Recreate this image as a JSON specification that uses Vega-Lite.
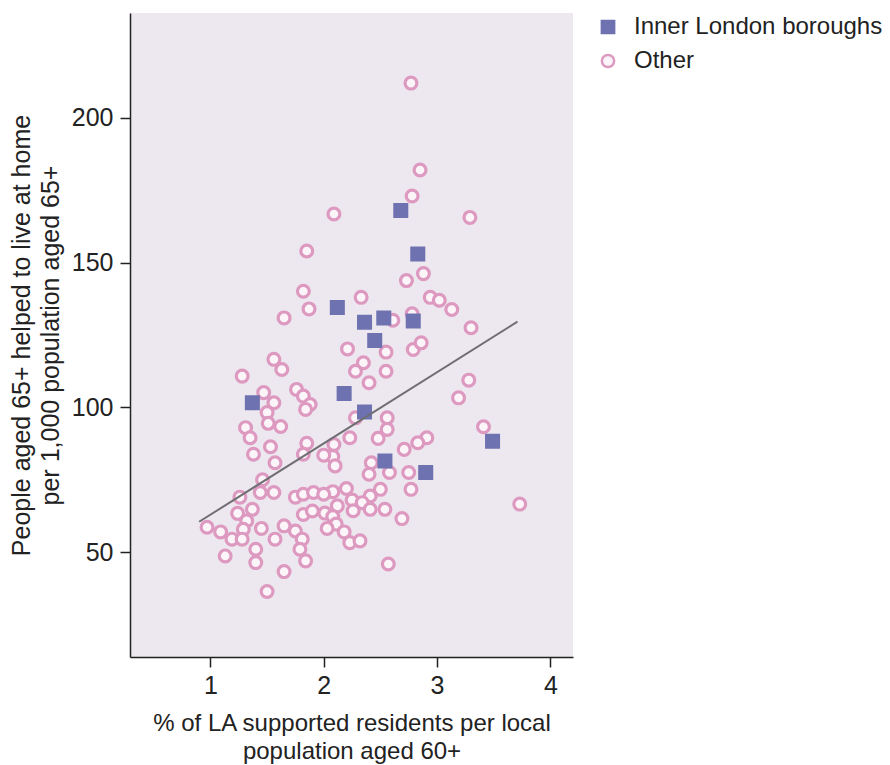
{
  "$schema": "https://vega.github.io/schema/vega-lite/v6.json",
  "width": 443,
  "height": 644,
  "autosize": {"type": "none"},
  "padding": {"left": 130, "top": 13, "right": 317, "bottom": 108},
  "background": "white",
  "config": {
    "font": "Liberation Sans",
    "view": {"fill": "#ede8ef", "stroke": null},
    "axis": {"grid": false, "domainColor": "#222222", "tickColor": "#222222", "labelColor": "#222222", "titleColor": "#222222", "labelFont": "Liberation Sans", "titleFont": "Liberation Sans", "titleFontWeight": "normal", "domainWidth": 1.5, "tickWidth": 1.5},
    "legend": {"title": null, "orient": "none", "legendX": 466, "legendY": 2, "labelFontSize": 24, "labelColor": "#222222", "labelLimit": 400, "symbolSize": 150, "symbolStrokeWidth": 2.5, "rowPadding": 10, "labelOffset": 14, "padding": 0}
  },
  "layer": [
    {
      "data": {
        "values": [
          {"x": 2.77, "y": 212, "g": "Other"},
          {"x": 2.85, "y": 182, "g": "Other"},
          {"x": 2.78, "y": 173, "g": "Other"},
          {"x": 2.09, "y": 166.8, "g": "Other"},
          {"x": 3.29, "y": 165.6, "g": "Other"},
          {"x": 1.85, "y": 154, "g": "Other"},
          {"x": 2.88, "y": 146.2, "g": "Other"},
          {"x": 2.73, "y": 143.8, "g": "Other"},
          {"x": 1.82, "y": 140.1, "g": "Other"},
          {"x": 2.33, "y": 138, "g": "Other"},
          {"x": 2.94, "y": 138, "g": "Other"},
          {"x": 3.02, "y": 137, "g": "Other"},
          {"x": 1.87, "y": 134, "g": "Other"},
          {"x": 3.13, "y": 133.8, "g": "Other"},
          {"x": 2.78, "y": 132.3, "g": "Other"},
          {"x": 1.65, "y": 130.9, "g": "Other"},
          {"x": 2.61, "y": 130.1, "g": "Other"},
          {"x": 3.30, "y": 127.5, "g": "Other"},
          {"x": 2.21, "y": 120.2, "g": "Other"},
          {"x": 2.55, "y": 119.1, "g": "Other"},
          {"x": 2.79, "y": 120, "g": "Other"},
          {"x": 2.86, "y": 122.3, "g": "Other"},
          {"x": 1.56, "y": 116.6, "g": "Other"},
          {"x": 2.35, "y": 115.4, "g": "Other"},
          {"x": 1.63, "y": 113.1, "g": "Other"},
          {"x": 2.28, "y": 112.5, "g": "Other"},
          {"x": 2.55, "y": 112.5, "g": "Other"},
          {"x": 1.28, "y": 110.8, "g": "Other"},
          {"x": 3.28, "y": 109.4, "g": "Other"},
          {"x": 2.40, "y": 108.5, "g": "Other"},
          {"x": 1.76, "y": 106.2, "g": "Other"},
          {"x": 1.47, "y": 105.1, "g": "Other"},
          {"x": 1.82, "y": 103.9, "g": "Other"},
          {"x": 3.19, "y": 103.3, "g": "Other"},
          {"x": 1.56, "y": 101.6, "g": "Other"},
          {"x": 1.88, "y": 101, "g": "Other"},
          {"x": 1.84, "y": 99.3, "g": "Other"},
          {"x": 1.50, "y": 98.2, "g": "Other"},
          {"x": 2.28, "y": 96.4, "g": "Other"},
          {"x": 2.56, "y": 96.4, "g": "Other"},
          {"x": 1.51, "y": 94.5, "g": "Other"},
          {"x": 1.62, "y": 93.4, "g": "Other"},
          {"x": 1.31, "y": 93, "g": "Other"},
          {"x": 3.41, "y": 93.3, "g": "Other"},
          {"x": 2.56, "y": 92.4, "g": "Other"},
          {"x": 1.35, "y": 89.5, "g": "Other"},
          {"x": 2.23, "y": 89.5, "g": "Other"},
          {"x": 2.48, "y": 89.3, "g": "Other"},
          {"x": 2.91, "y": 89.5, "g": "Other"},
          {"x": 2.83, "y": 87.8, "g": "Other"},
          {"x": 1.85, "y": 87.6, "g": "Other"},
          {"x": 2.09, "y": 87.2, "g": "Other"},
          {"x": 1.53, "y": 86.4, "g": "Other"},
          {"x": 2.71, "y": 85.5, "g": "Other"},
          {"x": 1.38, "y": 83.8, "g": "Other"},
          {"x": 1.82, "y": 83.8, "g": "Other"},
          {"x": 2.08, "y": 83, "g": "Other"},
          {"x": 2.00, "y": 83.5, "g": "Other"},
          {"x": 2.10, "y": 79.8, "g": "Other"},
          {"x": 2.42, "y": 80.9, "g": "Other"},
          {"x": 1.57, "y": 80.9, "g": "Other"},
          {"x": 2.58, "y": 77.5, "g": "Other"},
          {"x": 2.75, "y": 77.5, "g": "Other"},
          {"x": 2.40, "y": 76.9, "g": "Other"},
          {"x": 1.46, "y": 75, "g": "Other"},
          {"x": 2.77, "y": 71.7, "g": "Other"},
          {"x": 2.50, "y": 71.7, "g": "Other"},
          {"x": 2.20, "y": 72, "g": "Other"},
          {"x": 2.08, "y": 70.9, "g": "Other"},
          {"x": 1.44, "y": 70.6, "g": "Other"},
          {"x": 1.56, "y": 70.6, "g": "Other"},
          {"x": 1.26, "y": 69, "g": "Other"},
          {"x": 1.75, "y": 69, "g": "Other"},
          {"x": 1.82, "y": 70, "g": "Other"},
          {"x": 1.91, "y": 70.6, "g": "Other"},
          {"x": 2.00, "y": 70, "g": "Other"},
          {"x": 2.41, "y": 69.4, "g": "Other"},
          {"x": 2.25, "y": 68, "g": "Other"},
          {"x": 2.34, "y": 67.1, "g": "Other"},
          {"x": 2.12, "y": 66, "g": "Other"},
          {"x": 3.73, "y": 66.6, "g": "Other"},
          {"x": 2.26, "y": 64.3, "g": "Other"},
          {"x": 2.41, "y": 64.8, "g": "Other"},
          {"x": 2.54, "y": 64.8, "g": "Other"},
          {"x": 1.37, "y": 64.8, "g": "Other"},
          {"x": 1.24, "y": 63.4, "g": "Other"},
          {"x": 1.82, "y": 63, "g": "Other"},
          {"x": 1.90, "y": 64.2, "g": "Other"},
          {"x": 2.01, "y": 63.5, "g": "Other"},
          {"x": 2.08, "y": 62.3, "g": "Other"},
          {"x": 2.69, "y": 61.6, "g": "Other"},
          {"x": 1.32, "y": 60.8, "g": "Other"},
          {"x": 1.65, "y": 59.1, "g": "Other"},
          {"x": 2.11, "y": 59.7, "g": "Other"},
          {"x": 0.97, "y": 58.6, "g": "Other"},
          {"x": 1.45, "y": 58.2, "g": "Other"},
          {"x": 2.03, "y": 58.2, "g": "Other"},
          {"x": 1.09, "y": 57, "g": "Other"},
          {"x": 1.29, "y": 57.9, "g": "Other"},
          {"x": 1.75, "y": 57.3, "g": "Other"},
          {"x": 2.18, "y": 57, "g": "Other"},
          {"x": 1.19, "y": 54.5, "g": "Other"},
          {"x": 1.28, "y": 54.5, "g": "Other"},
          {"x": 1.57, "y": 54.5, "g": "Other"},
          {"x": 1.81, "y": 54.5, "g": "Other"},
          {"x": 2.23, "y": 53.3, "g": "Other"},
          {"x": 2.32, "y": 53.9, "g": "Other"},
          {"x": 1.79, "y": 51, "g": "Other"},
          {"x": 1.40, "y": 51, "g": "Other"},
          {"x": 1.13, "y": 48.7, "g": "Other"},
          {"x": 1.84, "y": 47, "g": "Other"},
          {"x": 1.40, "y": 46.4, "g": "Other"},
          {"x": 2.57, "y": 45.9, "g": "Other"},
          {"x": 1.65, "y": 43.3, "g": "Other"},
          {"x": 1.50, "y": 36.4, "g": "Other"},
          {"x": 2.68, "y": 168, "g": "Inner London boroughs"},
          {"x": 2.83, "y": 153, "g": "Inner London boroughs"},
          {"x": 2.12, "y": 134.5, "g": "Inner London boroughs"},
          {"x": 2.36, "y": 129.4, "g": "Inner London boroughs"},
          {"x": 2.53, "y": 130.9, "g": "Inner London boroughs"},
          {"x": 2.79, "y": 129.8, "g": "Inner London boroughs"},
          {"x": 2.45, "y": 123.1, "g": "Inner London boroughs"},
          {"x": 2.18, "y": 104.8, "g": "Inner London boroughs"},
          {"x": 1.37, "y": 101.6, "g": "Inner London boroughs"},
          {"x": 2.36, "y": 98.4, "g": "Inner London boroughs"},
          {"x": 3.49, "y": 88.3, "g": "Inner London boroughs"},
          {"x": 2.54, "y": 81.5, "g": "Inner London boroughs"},
          {"x": 2.90, "y": 77.5, "g": "Inner London boroughs"}
        ]
      },
      "mark": {"type": "point", "strokeWidth": 3.2, "opacity": 1},
      "encoding": {
        "x": {
          "field": "x", "type": "quantitative",
          "scale": {"domain": [0.29, 4.2], "nice": false, "zero": false},
          "axis": {"values": [1, 2, 3, 4], "format": "d", "title": ["% of LA supported residents per local", "population aged 60+"], "titleFontSize": 24, "titleLineHeight": 28, "labelFontSize": 25, "tickSize": 10, "labelPadding": 6, "titlePadding": 13}
        },
        "y": {
          "field": "y", "type": "quantitative",
          "scale": {"domain": [13.8, 236.2], "nice": false, "zero": false},
          "axis": {"values": [50, 100, 150, 200], "format": "d", "title": ["People aged 65+ helped to live at home", "per 1,000 population aged 65+"], "titleFontSize": 25, "titleLineHeight": 29, "labelFontSize": 25, "tickSize": 10, "labelPadding": 7, "titlePadding": 8}
        },
        "shape": {
          "field": "g", "type": "nominal",
          "scale": {"domain": ["Inner London boroughs", "Other"], "range": ["square", "circle"]}
        },
        "fill": {
          "field": "g", "type": "nominal",
          "scale": {"domain": ["Inner London boroughs", "Other"], "range": ["#6e72b0", "#fbf5f9"]}
        },
        "stroke": {
          "field": "g", "type": "nominal",
          "scale": {"domain": ["Inner London boroughs", "Other"], "range": ["#6e72b0", "#dd99c0"]}
        },
        "size": {"value": 140}
      }
    },
    {
      "data": {"values": [{"x": 0.9, "y": 60.5}, {"x": 3.71, "y": 129.6}]},
      "mark": {"type": "line", "color": "#6f6f73", "strokeWidth": 2},
      "encoding": {
        "x": {"field": "x", "type": "quantitative"},
        "y": {"field": "y", "type": "quantitative"}
      }
    }
  ]
}
